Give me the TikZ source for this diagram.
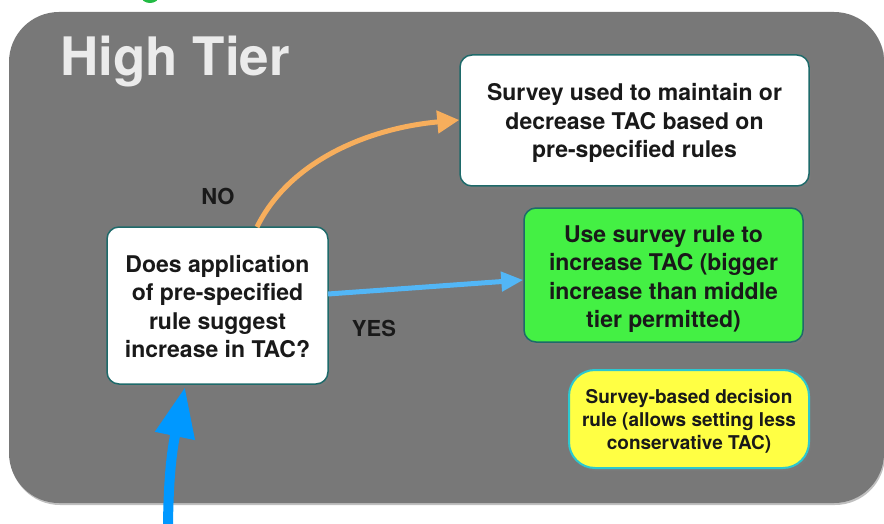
\documentclass[tikz,border=0pt]{standalone}
\usepackage{fontspec}
\setmainfont{TeX Gyre Heros}
\usetikzlibrary{shadows,arrows.meta}
\definecolor{bg}{HTML}{787878}
\definecolor{teal}{HTML}{1E6A6A}
\definecolor{boxgreen}{HTML}{44F044}
\definecolor{boxyellow}{HTML}{FFFF44}
\definecolor{cyanedge}{HTML}{2CC8D0}
\definecolor{orangearrow}{HTML}{F7AE5C}
\definecolor{lightblue}{HTML}{52B6F6}
\definecolor{bigblue}{HTML}{0098FF}
\definecolor{titlegray}{HTML}{EBEBEB}
\definecolor{topgreen}{HTML}{22BB44}
\newcommand{\lowerby}[1]{\rule{0pt}{#1}}
\tikzset{
  boxbase/.style={draw=teal, line width=1.5pt, rounded corners=12pt, align=center,
    text=black!90, inner sep=0pt,
    drop shadow={shadow xshift=2pt, shadow yshift=-3pt, opacity=0.35}},
  whitebox/.style={boxbase, fill=white, font=\bfseries\fontsize{23}{28.5}\selectfont},
  greenbox/.style={boxbase, fill=boxgreen, font=\bfseries\fontsize{23}{28.5}\selectfont},
  yellowbox/.style={boxbase, draw=cyanedge, line width=2pt, fill=boxyellow, rounded corners=26pt,
    font=\bfseries\fontsize{19}{23}\selectfont},
  lbl/.style={font=\bfseries\fontsize{22}{26}\selectfont, text=black!90, inner sep=0pt},
}
\begin{document}
\begin{tikzpicture}[x=1pt,y=-1pt]
\useasboundingbox (0,0) rectangle (884,524);
\fill[white] (0,0) rectangle (884,524);
\begin{scope}
\clip (0,0) rectangle (884,524);
\fill[topgreen] (150,-4) ellipse (9pt and 7pt);
\fill[bg, rounded corners=50pt, drop shadow={shadow xshift=1pt, shadow yshift=-2pt, opacity=0.5}]
  (9,12) rectangle (884,503);
\end{scope}
\node[anchor=base west, inner sep=0pt, text=titlegray, font=\bfseries\fontsize{53}{60}\selectfont]
  (title) at (60,76) {High Tier};

\node[whitebox, minimum width=221pt, minimum height=157pt] (q) at (217.5,305.5)
  {\lowerby{19pt}Does application\\of pre-specified\\rule suggest\\increase in TAC?};
\node[whitebox, minimum width=349pt, minimum height=131pt] (dec) at (634.5,120.5)
  {\lowerby{23pt}Survey used to maintain or\\decrease TAC based on\\pre-specified rules};
\node[greenbox, minimum width=279pt, minimum height=134pt] (inc) at (663.5,275)
  {\lowerby{25pt}Use survey rule to\\increase TAC (bigger\\increase than middle\\tier permitted)};
\node[yellowbox, minimum width=240pt, minimum height=98pt] (leg) at (689,419)
  {\lowerby{19pt}Survey-based decision\\rule (allows setting less\\conservative TAC)};

\node[lbl] (no) at (218,196) {NO};
\node[lbl] (yes) at (374,328) {YES};

\coordinate (qtop) at (257,227);
\coordinate (qright) at (328,294);
\coordinate (qbot) at (185,387);
\coordinate (start) at (168,534);

\draw[orangearrow, line width=5pt, -{Triangle[length=22pt,width=22pt]}]
  (qtop) .. controls (290,160) and (370,128) .. (dec.west |- 0,120);
\draw[lightblue, line width=5pt, -{Triangle[length=22pt,width=19pt]}]
  (qright) -- (inc.west |- 0,280);
\draw[bigblue, line width=10pt, -{Triangle[length=50pt,width=38pt]}]
  (start) .. controls (168,480) and (172,450) .. (qbot);
\end{tikzpicture}
\end{document}
